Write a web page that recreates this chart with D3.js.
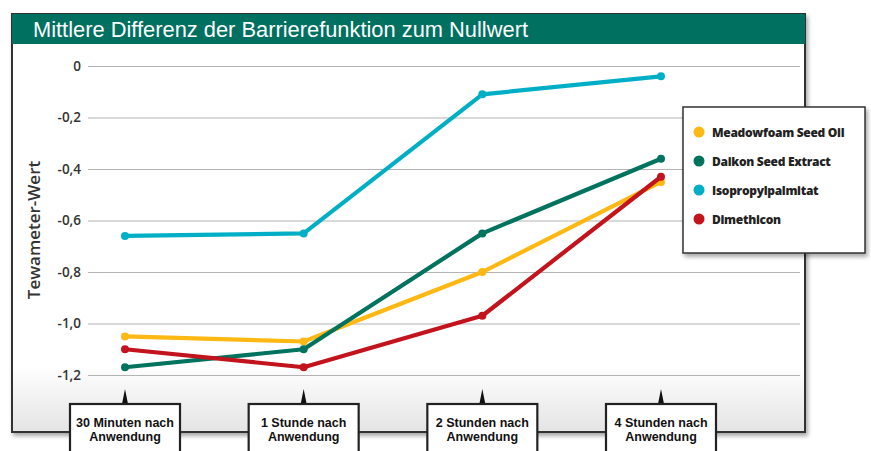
<!DOCTYPE html>
<html>
<head>
<meta charset="utf-8">
<script src="https://cdn.jsdelivr.net/npm/d3@7/dist/d3.min.js"></script>
<style>
  body { margin: 0; background: #fff; }
  svg { display: block; font-family: "Open Sans", sans-serif; }
</style>
</head>
<body>
<svg width="871" height="451"></svg>
<script>
var categories = [["30 Minuten nach", "Anwendung"], ["1 Stunde nach", "Anwendung"], ["2 Stunden nach", "Anwendung"], ["4 Stunden nach", "Anwendung"]];
var seriesNames = ["Meadowfoam Seed Oil", "Daikon Seed Extract", "Isopropylpalmitat", "Dimethicon"];
var seriesColors = ["#fdb813", "#00735f", "#00afc6", "#c3131d"];
var meadowfoam = [-1.05, -1.07, -0.80, -0.45];
var daikon = [-1.17, -1.10, -0.65, -0.36];
var isopropyl = [-0.66, -0.65, -0.11, -0.04];
var dimethicon = [-1.10, -1.17, -0.97, -0.43];
var yTicks = [0, -0.2, -0.4, -0.6, -0.8, -1.0, -1.2];
var drawOrder = [2, 0, 1, 3];
var seriesValues = [meadowfoam, daikon, isopropyl, dimethicon];

var narrow = "'Liberation Sans Narrow', 'Liberation Sans', sans-serif";

var svg = d3.select("svg");
var defs = svg.append("defs");

var grad = defs.append("linearGradient").attr("id", "bg").attr("x1", 0).attr("x2", 0).attr("y1", 0).attr("y2", 1);
grad.append("stop").attr("offset", "0.84").attr("stop-color", "#ffffff");
grad.append("stop").attr("offset", "1").attr("stop-color", "#e4e4e4");

var shadow = defs.append("filter").attr("id", "shadow").attr("x", "-10%").attr("y", "-10%").attr("width", "130%").attr("height", "130%");
shadow.append("feDropShadow").attr("dx", 2).attr("dy", 3).attr("stdDeviation", 2).attr("flood-color", "#000").attr("flood-opacity", 0.35);

// frame
svg.append("rect")
    .attr("x", 12).attr("y", 14).attr("width", 793).attr("height", 418)
    .attr("fill", "url(#bg)").attr("stroke", "#333").attr("stroke-width", 2)
    .attr("filter", "url(#shadow)");

// title bar
svg.append("rect").attr("x", 12).attr("y", 14).attr("width", 793).attr("height", 30).attr("fill", "#007060");
svg.append("text")
    .attr("x", 33).attr("y", 37)
    .attr("fill", "#fff").attr("font-family", narrow).attr("font-size", 22)
    .attr("textLength", 495).attr("lengthAdjust", "spacingAndGlyphs")
    .text("Mittlere Differenz der Barrierefunktion zum Nullwert");

var x = d3.scalePoint().domain(d3.range(categories.length)).range([125, 661]);
var y = d3.scaleLinear().domain([-1.2, 0]).range([375, 66]);

// y grid + labels
var yAxis = d3.axisLeft(y).tickValues(yTicks).tickSize(-(800 - 88)).tickPadding(7)
    .tickFormat(function(d) { return d === 0 ? "0" : d3.format(".1f")(d).replace(".", ",").replace("−", "-"); });
var gy = svg.append("g").attr("transform", "translate(88,0)").call(yAxis);
gy.select(".domain").remove();
gy.selectAll(".tick line").attr("stroke", "#b3b3b3").attr("stroke-width", 1.2);
gy.selectAll(".tick text").attr("fill", "#333").attr("font-size", 13.5).attr("font-weight", 600).attr("font-family", "Open Sans, sans-serif");

svg.append("text")
    .attr("transform", "translate(40,230) rotate(-90)")
    .attr("text-anchor", "middle").attr("fill", "#333")
    .attr("font-size", 17).attr("font-weight", 600).attr("font-family", "Open Sans, sans-serif")
    .text("Tewameter-Wert");

// lines
var line = d3.line().x(function(d, i) { return x(i); }).y(function(d) { return y(d); });
drawOrder.forEach(function(s) {
  var g = svg.append("g");
  g.append("path").datum(seriesValues[s])
      .attr("d", line).attr("fill", "none")
      .attr("stroke", seriesColors[s]).attr("stroke-width", 4.2).attr("stroke-linejoin", "round");
  g.selectAll("circle").data(seriesValues[s]).enter().append("circle")
      .attr("cx", function(d, i) { return x(i); })
      .attr("cy", function(d) { return y(d); })
      .attr("r", 4).attr("fill", seriesColors[s]);
});

// category boxes
var cat = svg.append("g").selectAll("g").data(categories).enter().append("g")
    .attr("transform", function(d, i) { return "translate(" + x(i) + ",0)"; });
cat.append("path").attr("d", "M-3,404L0,389L3,404Z").attr("fill", "#111");
cat.append("rect").attr("x", -55).attr("y", 404).attr("width", 110).attr("height", 60)
    .attr("fill", "#fff").attr("stroke", "#222").attr("stroke-width", 2.2);
cat.selectAll("text").data(function(d) { return d; }).enter().append("text")
    .attr("y", function(d, i) { return 427 + i * 14; })
    .attr("text-anchor", "middle").attr("fill", "#111")
    .attr("font-family", narrow)
    .attr("font-size", 12.5).attr("font-weight", 700)
    .text(function(d) { return d; });

// legend
var lg = svg.append("g").attr("transform", "translate(683,107)");
lg.append("rect").attr("width", 182).attr("height", 146)
    .attr("fill", "#fff").attr("stroke", "#333").attr("stroke-width", 1.5)
    .attr("filter", "url(#shadow)");
var item = lg.selectAll("g.item").data(seriesNames).enter().append("g").attr("class", "item")
    .attr("transform", function(d, i) { return "translate(0," + (25 + i * 29) + ")"; });
item.append("circle").attr("cx", 16).attr("cy", 0).attr("r", 5.5)
    .attr("fill", function(d, i) { return seriesColors[i]; });
item.append("text").attr("x", 29).attr("y", 4.5)
    .attr("fill", "#222").attr("font-size", 12).attr("font-weight", 800).attr("letter-spacing", -0.3)
    .text(function(d) { return d; });
</script>
</body>
</html>
